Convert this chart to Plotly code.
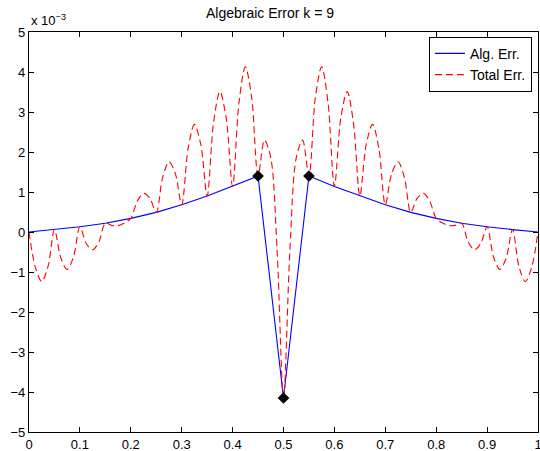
import plotly.graph_objects as go

# Node positions and algebraic error (units of 1e-3)
x_nodes = [0.00, 0.05, 0.10, 0.15, 0.20, 0.25, 0.30, 0.35, 0.40, 0.45, 0.50,
           0.55, 0.60, 0.65, 0.70, 0.75, 0.80, 0.85, 0.90, 0.95, 1.00]
alg_err = [0.00, 0.06, 0.13, 0.22, 0.34, 0.49, 0.68, 0.90, 1.14, 1.40, -4.15,
           1.40, 1.14, 0.90, 0.68, 0.49, 0.34, 0.22, 0.13, 0.06, 0.00]

# Total error sampled every 0.0125 (units of 1e-3)
x_total = [i / 80 for i in range(81)]
total_err = [
    0.0, -0.883, -1.24, -0.853, 0.06, -0.651, -0.935, -0.616, 0.13, -0.286,
    -0.445, -0.241, 0.22, 0.165, 0.16, 0.225, 0.34, 0.767, 0.965, 0.842,
    0.49, 1.365, 1.755, 1.46, 0.68, 2.078, 2.69, 2.188, 0.90, 2.721,
    3.51, 2.841, 1.14, 3.227, 4.13, 3.357, 1.40, 2.297, 1.855, -0.479,
    -4.15,
    -0.479, 1.855, 2.297, 1.40, 3.357, 4.13, 3.227, 1.14, 2.841, 3.51,
    2.721, 0.90, 2.188, 2.69, 2.078, 0.68, 1.46, 1.755, 1.365, 0.49,
    0.842, 0.965, 0.767, 0.34, 0.225, 0.16, 0.165, 0.22, -0.241, -0.445,
    -0.286, 0.13, -0.616, -0.935, -0.651, 0.06, -0.853, -1.24, -0.883, 0.0,
]

marker_x = [0.45, 0.50, 0.55]
marker_y = [1.40, -4.15, 1.40]

x_ticks = [0, 0.1, 0.2, 0.3, 0.4, 0.5, 0.6, 0.7, 0.8, 0.9, 1]
x_tick_labels = ["0", "0.1", "0.2", "0.3", "0.4", "0.5", "0.6", "0.7", "0.8", "0.9", "1"]
y_ticks = [-5, -4, -3, -2, -1, 0, 1, 2, 3, 4, 5]
y_tick_labels = ["\u22125", "\u22124", "\u22123", "\u22122", "\u22121", "0", "1", "2", "3", "4", "5"]

fig = go.Figure()
fig.add_trace(go.Scatter(x=x_nodes, y=alg_err, mode="lines", name="Alg. Err.",
                         line=dict(color="#0000ff", width=1.1)))
fig.add_trace(go.Scatter(x=x_total, y=total_err, mode="lines", name="Total Err.",
                         line=dict(color="#ff0000", width=1.1, dash="7px,4px",
                                   shape="spline", smoothing=0.9)))
fig.add_trace(go.Scatter(x=marker_x, y=marker_y, mode="markers", showlegend=False,
                         marker=dict(symbol="diamond", color="black", size=9)))

font = "Liberation Sans, Arial, Helvetica, sans-serif"
axis_common = dict(showline=True, linecolor="black", linewidth=1.2, mirror="ticks",
                   ticks="inside", ticklen=5, tickcolor="black", showgrid=False,
                   zeroline=False, automargin=False, ticklabeloverflow="allow",
                   tickfont=dict(family=font, size=13, color="black"))

fig.update_layout(
    width=540, height=451,
    margin=dict(l=29, r=2, t=32, b=19),
    paper_bgcolor="white", plot_bgcolor="white",
    title=dict(text="Algebraic Error k = 9", x=0.5, xanchor="center", y=0.971,
               yanchor="middle", font=dict(family=font, size=14, color="black")),
    xaxis=dict(range=[0, 1], tickvals=x_ticks, ticktext=x_tick_labels, **axis_common),
    yaxis=dict(range=[-5, 5], tickvals=y_ticks, ticktext=y_tick_labels, **axis_common),
    legend=dict(x=0.988, y=0.988, xanchor="right", yanchor="top",
                bgcolor="white", bordercolor="black", borderwidth=1,
                font=dict(family=font, size=14, color="black"),
                tracegroupgap=0),
    showlegend=True,
)

fig.add_annotation(text="x 10<sup>\u22123</sup>", xref="paper", yref="paper",
                   x=0.0, y=1.0, xanchor="left", yanchor="bottom", yshift=2, showarrow=False,
                   font=dict(family=font, size=13, color="black"))

fig.write_html("out.html", config={"displayModeBar": False},
               post_script="document.body.style.margin='0';document.body.style.overflow='hidden';")
